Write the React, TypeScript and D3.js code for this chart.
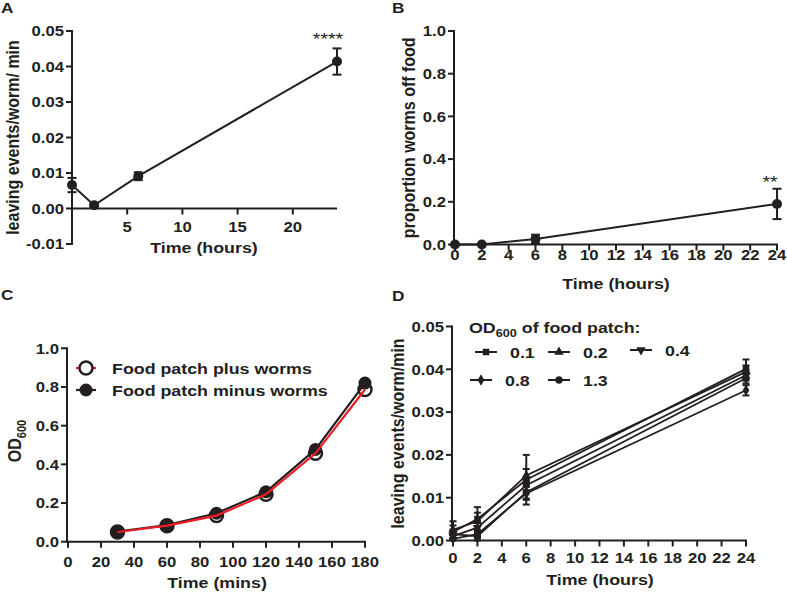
import React from "react";
import * as d3 from "d3";

// ---------- Data ----------
const A_time = [0, 2, 6, 24];
const A_mean = [0.0066, 0.0009, 0.0091, 0.0414];
const A_err = [0.002, 0.0004, 0.0011, 0.0037];
const A_yTicks = [-0.01, 0, 0.01, 0.02, 0.03, 0.04, 0.05];
const A_xTicks = [5, 10, 15, 20];

const B_time = [0, 2, 6, 24];
const B_mean = [0, 0, 0.026, 0.19];
const B_err = [0, 0, 0.02, 0.071];
const B_yTicks = [0, 0.2, 0.4, 0.6, 0.8, 1.0];
const B_xTicks = [0, 2, 4, 6, 8, 10, 12, 14, 16, 18, 20, 22, 24];

const C_time = [30, 60, 90, 120, 150, 180];
const C_plus = [0.05, 0.083, 0.135, 0.245, 0.457, 0.787];
const C_minus = [0.052, 0.086, 0.147, 0.258, 0.477, 0.82];
const C_yTicks = [0, 0.2, 0.4, 0.6, 0.8, 1.0];
const C_xTicks = [0, 20, 40, 60, 80, 100, 120, 140, 160, 180];

const D_time = [0, 2, 6, 24];
const D_labels = ["0.1", "0.2", "0.4", "0.8", "1.3"];
const D_s01 = [0.002, 0.005, 0.0142, 0.0401];
const D_s02 = [0.0025, 0.0045, 0.0152, 0.0394];
const D_s04 = [0.001, 0.003, 0.0129, 0.0386];
const D_s08 = [0.0004, 0.0015, 0.011, 0.0351];
const D_s13 = [0.0015, 0.001, 0.0113, 0.0379];
const D_e01 = [0.0015, 0.0028, 0.0058, 0.0022];
const D_e02 = [0.002, 0.002, 0.0015, 0.0015];
const D_e04 = [0.001, 0.0015, 0.0012, 0.0012];
const D_e08 = [0.0008, 0.001, 0.0015, 0.0012];
const D_e13 = [0.001, 0.001, 0.0015, 0.0012];
const D_yTicks = [0, 0.01, 0.02, 0.03, 0.04, 0.05];
const D_xTicks = [0, 2, 4, 6, 8, 10, 12, 14, 16, 18, 20, 22, 24];

const FONT = "'Liberation Sans', Arial, Helvetica, sans-serif";
const INK = "#231f20";
const SX = 1.15; // horizontal stretch of the reference lettering
const TICK_FS = 14.5;
const TITLE_FS = 15.5;

type Sc = d3.ScaleLinear<number, number>;

function Txt({ x, y, anchor = "start", fs = TITLE_FS, bold = true, children, dy }: any) {
  return (
    <text
      transform={`translate(${x},${y}) scale(${SX},1)`}
      textAnchor={anchor}
      fontSize={fs}
      fontWeight={bold ? "bold" : "normal"}
      fill={INK}
      fontFamily={FONT}
      dy={dy}
    >
      {children}
    </text>
  );
}

function VTxt({ x, y, fs = 16, children }: any) {
  return (
    <text transform={`translate(${x},${y}) rotate(-90) scale(1,${SX})`} textAnchor="middle" fontSize={fs} fontWeight="bold" fill={INK} fontFamily={FONT}>
      {children}
    </text>
  );
}

function YAxis({ y, ticks, fmt, x0 }: { y: Sc; ticks: number[]; fmt: (v: number) => string; x0: number }) {
  const [r0, r1] = y.range();
  return (
    <g>
      <line x1={x0} x2={x0} y1={r0 + 1} y2={r1 - 1} stroke={INK} strokeWidth={2} />
      {ticks.map((t) => (
        <g key={t}>
          <line x1={x0 - 6} x2={x0} y1={y(t)} y2={y(t)} stroke={INK} strokeWidth={2} />
          <Txt x={x0 - 8} y={y(t)} dy="0.36em" anchor="end" fs={TICK_FS}>
            {fmt(t)}
          </Txt>
        </g>
      ))}
    </g>
  );
}

function XAxis({ x, yPos, ticks, xStart, xEnd, labelY }: { x: Sc; yPos: number; ticks: number[]; xStart: number; xEnd: number; labelY: number }) {
  return (
    <g>
      <line x1={xStart} x2={xEnd} y1={yPos} y2={yPos} stroke={INK} strokeWidth={2} />
      {ticks.map((t) => (
        <g key={t}>
          <line x1={x(t)} x2={x(t)} y1={yPos} y2={yPos + 6} stroke={INK} strokeWidth={2} />
          <Txt x={x(t)} y={labelY} anchor="middle" fs={TICK_FS}>
            {t}
          </Txt>
        </g>
      ))}
    </g>
  );
}

function ErrBars({ x, y, t, m, e, cap, clipMin }: { x: Sc; y: Sc; t: number[]; m: number[]; e: number[]; cap: number; clipMin?: number }) {
  return (
    <g stroke={INK} strokeWidth={2}>
      {t.map((tt, i) => {
        if (!e[i]) return null;
        const lo = clipMin !== undefined ? Math.max(clipMin, m[i] - e[i]) : m[i] - e[i];
        const hi = m[i] + e[i];
        return (
          <g key={i}>
            <line x1={x(tt)} x2={x(tt)} y1={y(lo)} y2={y(hi)} />
            <line x1={x(tt) - cap} x2={x(tt) + cap} y1={y(hi)} y2={y(hi)} />
            {(clipMin === undefined || m[i] - e[i] >= clipMin) && (
              <line x1={x(tt) - cap} x2={x(tt) + cap} y1={y(lo)} y2={y(lo)} />
            )}
          </g>
        );
      })}
    </g>
  );
}

function PanelA() {
  const x = d3.scaleLinear().domain([0, 24]).range([72, 337]);
  const y = d3.scaleLinear().domain([-0.01, 0.05]).range([244, 31]);
  const line = d3.line<number>().x((_, i) => x(A_time[i])).y((d) => y(d));
  return (
    <g>
      <Txt x={1} y={13} fs={15}>A</Txt>
      <YAxis y={y} ticks={A_yTicks} fmt={(v) => v.toFixed(2)} x0={72} />
      <XAxis x={x} yPos={y(0)} ticks={A_xTicks} xStart={72} xEnd={337} labelY={232} />
      <path d={line(A_mean) || ""} fill="none" stroke={INK} strokeWidth={2} />
      <ErrBars x={x} y={y} t={A_time} m={A_mean} e={A_err} cap={4.5} />
      {A_time.map((t, i) => (
        <circle key={i} cx={x(t)} cy={y(A_mean[i])} r={5} fill={INK} />
      ))}
      <Txt x={328} y={45} anchor="middle" fs={17} bold={false}>****</Txt>
      <Txt x={204} y={253} anchor="middle">Time (hours)</Txt>
      <VTxt x={19} y={y(0.02)}>leaving events/worm/ min</VTxt>
    </g>
  );
}

function PanelB() {
  const x = d3.scaleLinear().domain([0, 24]).range([455, 777]);
  const y = d3.scaleLinear().domain([0, 1]).range([244.5, 31]);
  const line = d3.line<number>().x((_, i) => x(B_time[i])).y((d) => y(d));
  return (
    <g>
      <Txt x={392} y={13} fs={15}>B</Txt>
      <YAxis y={y} ticks={B_yTicks} fmt={(v) => v.toFixed(1)} x0={454} />
      <XAxis x={x} yPos={y(0)} ticks={B_xTicks} xStart={454} xEnd={778} labelY={260} />
      <path d={line(B_mean) || ""} fill="none" stroke={INK} strokeWidth={2} />
      <ErrBars x={x} y={y} t={B_time} m={B_mean} e={B_err} cap={4.5} clipMin={0} />
      {B_time.map((t, i) => (
        <circle key={i} cx={x(t)} cy={y(B_mean[i])} r={5} fill={INK} />
      ))}
      <Txt x={770} y={188} anchor="middle" fs={17} bold={false}>**</Txt>
      <Txt x={616} y={289} anchor="middle">Time (hours)</Txt>
      <VTxt x={415} y={y(0.5)}>proportion worms off food</VTxt>
    </g>
  );
}

function PanelC() {
  const x = d3.scaleLinear().domain([0, 180]).range([68, 365]);
  const y = d3.scaleLinear().domain([0, 1]).range([541.7, 348.3]);
  const ln = d3.line<number>().x((_, i) => x(C_time[i])).y((d) => y(d));
  return (
    <g>
      <Txt x={1} y={300} fs={15}>C</Txt>
      <YAxis y={y} ticks={C_yTicks} fmt={(v) => v.toFixed(1)} x0={67} />
      <XAxis x={x} yPos={y(0)} ticks={C_xTicks} xStart={67} xEnd={366} labelY={567} />
      <path d={ln(C_minus) || ""} fill="none" stroke={INK} strokeWidth={2.2} />
      {C_time.map((t, i) => (
        <circle key={"p" + i} cx={x(t)} cy={y(C_plus[i])} r={6.5} fill="white" fillOpacity={0} stroke={INK} strokeWidth={2.5} />
      ))}
      {C_time.map((t, i) => (
        <circle key={"m" + i} cx={x(t)} cy={y(C_minus[i])} r={6.5} fill={INK} />
      ))}
      <path d={ln(C_plus) || ""} fill="none" stroke="#ed1c24" strokeWidth={2.2} />
      {/* legend */}
      <line x1={76} x2={96} y1={368} y2={368} stroke="#ed1c24" strokeWidth={2.2} />
      <circle cx={86} cy={368} r={6.5} fill="white" stroke={INK} strokeWidth={2.5} />
      <Txt x={112} y={374}>Food patch plus worms</Txt>
      <line x1={76} x2={96} y1={390} y2={390} stroke={INK} strokeWidth={2.2} />
      <circle cx={86} cy={390} r={6.5} fill={INK} />
      <Txt x={112} y={396}>Food patch minus worms</Txt>
      <Txt x={217} y={588} anchor="middle">Time (mins)</Txt>
      <VTxt x={21} y={y(0.5) - 4}>
        OD<tspan fontSize={11} dy={4}>600</tspan>
      </VTxt>
    </g>
  );
}

const D_series = [D_s01, D_s02, D_s04, D_s08, D_s13];
const D_errs = [D_e01, D_e02, D_e04, D_e08, D_e13];

function Marker({ kind, cx, cy }: { kind: number; cx: number; cy: number }) {
  const types = [d3.symbolSquare, d3.symbolTriangle, d3.symbolTriangle, d3.symbolDiamond, d3.symbolCircle];
  const sizes = [42, 38, 38, 38, 42];
  const p = d3.symbol().type(types[kind]).size(sizes[kind])() || "";
  const rot = kind === 2 ? 180 : 0;
  return <path d={p} transform={`translate(${cx},${cy}) rotate(${rot})`} fill={INK} />;
}

function PanelD() {
  const x = d3.scaleLinear().domain([0, 24]).range([453, 746]);
  const y = d3.scaleLinear().domain([0, 0.05]).range([540.5, 326.5]);
  const line = d3.line<number>().x((_, i) => x(D_time[i])).y((d) => y(d));
  const legendPos = [
    [475, 352],
    [548, 352],
    [630, 350],
    [470, 380],
    [548, 380],
  ];
  return (
    <g>
      <Txt x={392} y={301} fs={15}>D</Txt>
      <YAxis y={y} ticks={D_yTicks} fmt={(v) => v.toFixed(2)} x0={452} />
      <XAxis x={x} yPos={y(0)} ticks={D_xTicks} xStart={452} xEnd={747} labelY={563} />
      {D_series.map((s, k) => (
        <path key={"l" + k} d={line(s) || ""} fill="none" stroke={INK} strokeWidth={1.8} />
      ))}
      {D_series.map((s, k) => (
        <ErrBars key={"e" + k} x={x} y={y} t={D_time} m={s} e={D_errs[k]} cap={3.5} clipMin={0} />
      ))}
      {D_series.map((s, k) =>
        D_time.map((t, i) => <Marker key={k + "-" + i} kind={k} cx={x(t)} cy={y(s[i])} />)
      )}
      {/* legend */}
      <Txt x={469} y={333}>
        OD<tspan fontSize={11} dy={4}>600</tspan><tspan dy={-4}> of food patch:</tspan>
      </Txt>
      {D_labels.map((lab, k) => (
        <g key={"lg" + k}>
          <line x1={legendPos[k][0]} x2={legendPos[k][0] + 22} y1={legendPos[k][1]} y2={legendPos[k][1]} stroke={INK} strokeWidth={2} />
          <Marker kind={k} cx={legendPos[k][0] + 11} cy={legendPos[k][1]} />
          <Txt x={legendPos[k][0] + 35} y={legendPos[k][1] + 6}>
            {lab}
          </Txt>
        </g>
      ))}
      <Txt x={600} y={585} anchor="middle">Time (hours)</Txt>
      <VTxt x={404} y={y(0.025)}>leaving events/worm/min</VTxt>
    </g>
  );
}

export default function App() {
  return (
    <svg width={787} height={593} style={{ position: "absolute", left: 0, top: 0, background: "white" }}>
      <rect width={787} height={593} fill="white" />
      <PanelA />
      <PanelB />
      <PanelC />
      <PanelD />
    </svg>
  );
}
